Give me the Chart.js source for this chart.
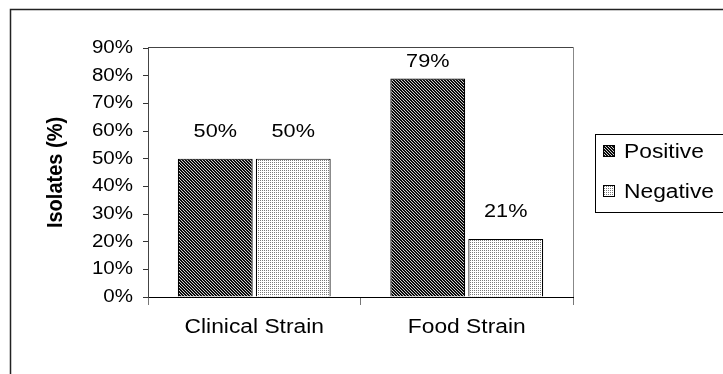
<!DOCTYPE html>
<html>
<head>
<meta charset="utf-8">
<script src="https://cdn.jsdelivr.net/npm/chart.js@4.4.1/dist/chart.umd.min.js"></script>
<style>
  html, body { margin: 0; padding: 0; background: #fff; }
  #wrap { width: 723px; height: 374px; }
</style>
</head>
<body>
<div id="wrap"><canvas id="c" width="723" height="374"></canvas></div>
<script>
// ---- data ----
const categories = ['Clinical Strain', 'Food Strain'];
const seriesNames = ['Positive', 'Negative'];
const positiveValues = [50, 79];
const negativeValues = [50, 21];
const yTicks = [0, 10, 20, 30, 40, 50, 60, 70, 80, 90];

// ---- text horizontal stretch (the reference text is wider than Arial) ----
const SX = 1.14;
const canvas = document.getElementById('c');
const ctx = canvas.getContext('2d');
const origFill = ctx.fillText.bind(ctx);
ctx.fillText = function (text, x, y, maxW) {
  const m = ctx.getTransform();
  ctx.save();
  ctx.translate(x, y);
  if (Math.abs(m.b) > 0.5) ctx.scale(1, SX); else ctx.scale(SX, 1);
  origFill(text, 0, 0);
  ctx.restore();
};

// ---- patterns ----
function makePattern(w, h, bg, fg, pts) {
  const c = document.createElement('canvas');
  c.width = w; c.height = h;
  const g = c.getContext('2d');
  g.fillStyle = bg; g.fillRect(0, 0, w, h);
  g.fillStyle = fg;
  pts.forEach(p => g.fillRect(p[0], p[1], 1, 1));
  return ctx.createPattern(c, 'repeat');
}
const darkPat = makePattern(3, 3, '#0c0c0c', '#d0d0d0', [[0,0],[1,1],[2,2]]);
const lightPat = makePattern(2, 2, '#ffffff', '#7a7a7a', [[0,0]]);
const pats = [darkPat, lightPat];

const FONT = "'Liberation Sans', Arial, sans-serif";

const decor = {
  id: 'decor',
  beforeDraw(chart) {
    const c = chart.ctx, a = chart.chartArea;
    c.save();
    c.fillStyle = '#fff';
    c.fillRect(0, 0, chart.width, chart.height);
    // outer border
    c.strokeStyle = '#222';
    c.lineWidth = 1.5;
    c.strokeRect(10.5, 9.5, 900, 900);
    // plot area border
    c.lineWidth = 1;
    c.strokeStyle = '#444';
    c.beginPath();
    c.moveTo(a.left, a.top - 0.5);
    c.lineTo(a.right + 0.5, a.top - 0.5);
    c.stroke();
    c.strokeStyle = '#888';
    c.beginPath();
    c.moveTo(a.right + 0.5, a.top - 0.5);
    c.lineTo(a.right + 0.5, a.bottom);
    c.stroke();
    c.restore();
  },
  afterDatasetsDraw(chart) {
    const c = chart.ctx, a = chart.chartArea;
    c.save();
    c.font = '19px ' + FONT;
    c.fillStyle = '#000';
    c.textAlign = 'center';
    c.textBaseline = 'middle';
    chart.data.datasets.forEach((ds, di) => {
      chart.getDatasetMeta(di).data.forEach((bar, i) => {
        const y = Math.max(bar.y - 27, a.top + 14);
        c.fillText(ds.data[i] + '%', bar.x, y);
      });
    });
    // legend
    const lx = 595.5, ly = 134.5;
    c.strokeStyle = '#000';
    c.lineWidth = 1;
    c.strokeRect(lx, ly, 200, 78);
    c.font = '20px ' + FONT;
    c.textAlign = 'left';
    chart.data.datasets.forEach((ds, di) => {
      const cy = 151 + di * 40;
      c.fillStyle = pats[di];
      c.fillRect(603, cy - 6, 12, 12);
      c.strokeStyle = '#000';
      c.strokeRect(603.5, cy - 5.5, 11, 11);
      c.fillStyle = '#000';
      c.fillText(ds.label, 624, cy + 1);
    });
    c.restore();
  }
};

new Chart(ctx, {
  type: 'bar',
  data: {
    labels: categories,
    datasets: [
      { label: seriesNames[0], data: positiveValues, backgroundColor: darkPat, borderColor: '#000', borderWidth: 1.2,
        categoryPercentage: 0.734, barPercentage: 0.96 },
      { label: seriesNames[1], data: negativeValues, backgroundColor: lightPat, borderColor: '#000', borderWidth: 1.2,
        categoryPercentage: 0.734, barPercentage: 0.96 }
    ]
  },
  options: {
    responsive: false,
    animation: false,
    devicePixelRatio: 1,
    layout: { padding: { left: 0, top: 48, right: 150, bottom: 0 } },
    plugins: { legend: { display: false }, tooltip: { enabled: false } },
    scales: {
      x: {
        afterFit(s) { s.height = 77; },
        grid: { display: true, offset: true, drawOnChartArea: false, tickLength: 8, color: '#777', lineWidth: 1 },
        border: { display: true, color: '#000', width: 1 },
        ticks: { color: '#000', font: { family: FONT, size: 20 }, padding: 10, maxRotation: 0 }
      },
      y: {
        min: 0, max: 90,
        afterFit(s) { s.width = 148; },
        afterBuildTicks(s) { s.ticks = yTicks.map(v => ({ value: v })); },
        grid: { display: true, drawOnChartArea: false, tickLength: 5, color: '#333' },
        border: { display: true, color: '#444', width: 1 },
        ticks: { color: '#000', font: { family: FONT, size: 18 }, padding: 10, callback: v => v + '%' },
        title: { display: true, text: 'Isolates (%)', color: '#000', font: { family: FONT, size: 20, weight: 'bold' },
                 padding: { top: 44, bottom: 0 } }
      }
    }
  },
  plugins: [decor]
});
</script>
</body>
</html>
